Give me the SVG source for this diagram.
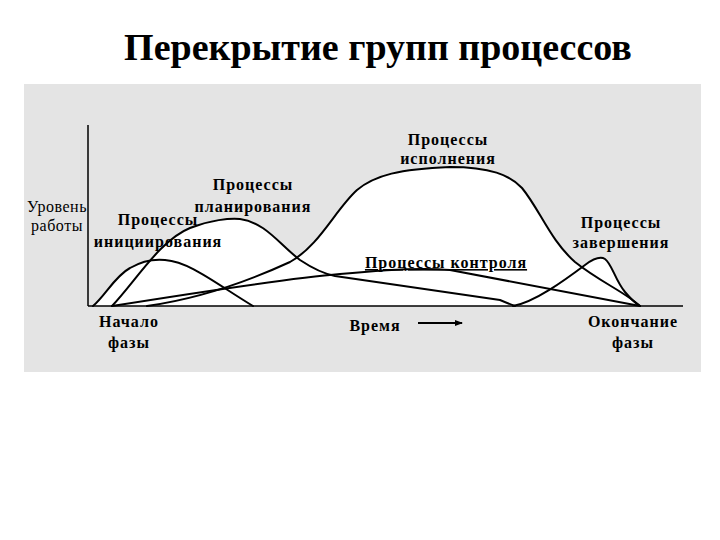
<svg xmlns="http://www.w3.org/2000/svg" width="720" height="540" viewBox="0 0 720 540">
<style>
.t{font-family:"Liberation Serif","Times New Roman",serif;fill:#000}
.b{font-weight:bold;font-size:16px;letter-spacing:1px}
.r{font-size:16px;letter-spacing:0.5px}
.c{fill:none;stroke:#000;stroke-width:2;stroke-linejoin:round;stroke-linecap:round}
.f{fill:#fff;stroke:none}
</style>
<defs>
<marker id="ah" markerWidth="8" markerHeight="6" refX="7" refY="3" orient="auto" markerUnits="userSpaceOnUse">
<path d="M0,0 L8,3 L0,6 Z" fill="#000"/>
</marker>
</defs>
<rect x="0" y="0" width="720" height="540" fill="#fff"/>
<text class="t" x="378" y="60" text-anchor="middle" font-size="38" font-weight="bold">Перекрытие групп процессов</text>
<rect x="24" y="84" width="677" height="288" fill="#e4e4e4"/>
<g id="fills">
<path class="f" d="M93,306 C105,296 115,276 130,268 C142,261 155,259 165,260 C190,262 215,283 253,306 Z"/>
<path class="f" d="M112,306 C135,282 160,240 190,228 C210,220 230,218 240,219 C265,222 280,245 300,260 C315,270 325,274 335,276 L500,300 Q507,303 515,306 Z"/>
<path class="f" d="M112,306 C200,292 290,278 340,274 C380,270 420,267 450,270 L640,306 Z"/>
<path class="f" d="M147,306 C190,300 240,285 290,262 C320,245 335,210 357,190 C375,175 400,169 450,167 C490,167 510,175 522,188 C540,210 550,240 575,262 C600,282 625,292 640,306 Z"/>
<path class="f" d="M513,306 C535,302 565,280 585,265 C593,259 600,256 605,259 C612,264 615,280 625,292 C630,298 635,303 640,306 Z"/>
</g>
<g id="axes">
<line x1="88" y1="125" x2="88" y2="306" stroke="#000" stroke-width="1.5"/>
<line x1="88" y1="306" x2="683" y2="306" stroke="#000" stroke-width="1.5"/>
</g>
<g id="connectors">
<path id="init" class="c" d="M93,306 C105,296 115,276 130,268 C142,261 155,259 165,260 C190,262 215,283 253,306"/>
<path id="plan" class="c" d="M112,306 C135,282 160,240 190,228 C210,220 230,218 240,219 C265,222 280,245 300,260 C315,270 325,274 335,276 L500,300 Q507,303 515,306"/>
<path id="ctrl" class="c" d="M112,306 C200,292 290,278 340,274 C380,270 420,267 450,270 L640,306"/>
<path id="exec" class="c" d="M147,306 C190,300 240,285 290,262 C320,245 335,210 357,190 C375,175 400,169 450,167 C490,167 510,175 522,188 C540,210 550,240 575,262 C600,282 625,292 640,306"/>
<path id="close" class="c" d="M513,306 C535,302 565,280 585,265 C593,259 600,256 605,259 C612,264 615,280 625,292 C630,298 635,303 640,306"/>
<line x1="418" y1="323" x2="462" y2="323" stroke="#000" stroke-width="2" marker-end="url(#ah)"/>
</g>
<g id="label-level"><text class="t r" text-anchor="middle"><tspan x="57" y="212">Уровень</tspan><tspan x="57" y="231">работы</tspan></text></g>
<g id="label-init"><text class="t b" text-anchor="middle"><tspan x="158" y="225">Процессы</tspan><tspan x="158" y="247">инициирования</tspan></text></g>
<g id="label-plan"><text class="t b" text-anchor="middle"><tspan x="253" y="190">Процессы</tspan><tspan x="253" y="212">планирования</tspan></text></g>
<g id="label-exec"><text class="t b" text-anchor="middle"><tspan x="448" y="145">Процессы</tspan><tspan x="448" y="164">исполнения</tspan></text></g>
<g id="label-close"><text class="t b" text-anchor="middle"><tspan x="621" y="228">Процессы</tspan><tspan x="621" y="248">завершения</tspan></text></g>
<g id="label-ctrl"><text class="t b" x="446" y="268" text-anchor="middle" text-decoration="underline">Процессы контроля</text></g>
<g id="label-start"><text class="t b" text-anchor="middle"><tspan x="129" y="327">Начало</tspan><tspan x="129" y="348">фазы</tspan></text></g>
<g id="label-time"><text class="t b" x="375" y="331" text-anchor="middle">Время</text></g>
<g id="label-end"><text class="t b" text-anchor="middle"><tspan x="633" y="327">Окончание</tspan><tspan x="633" y="348">фазы</tspan></text></g>
</svg>
